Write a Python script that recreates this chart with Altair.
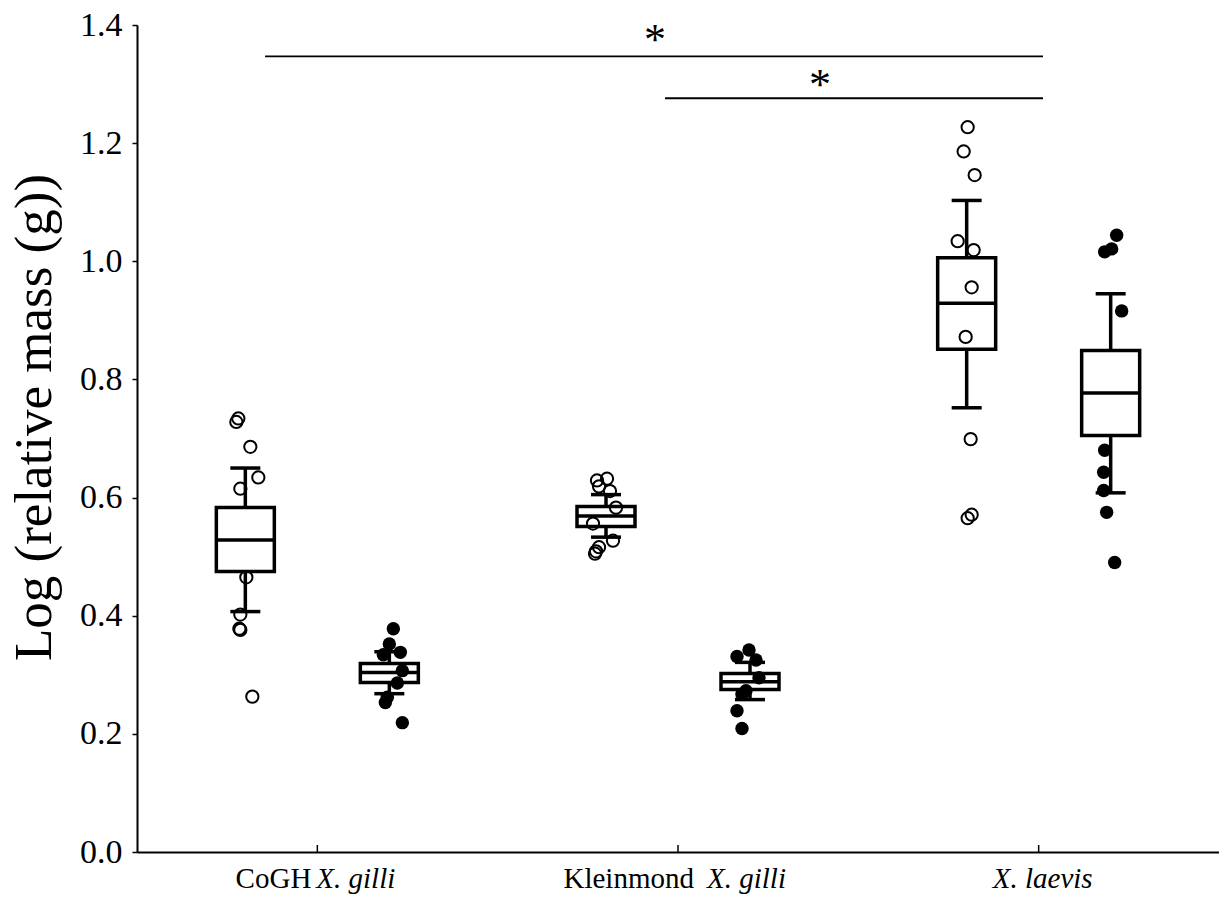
import altair as alt
import pandas as pd

# ---- data -----------------------------------------------------------------
groups = ["CoGH", "Kleinmond", "laevis"]
prefixes = ["CoGH", "Kleinmond", ""]
species = ["X. gilli", "X. gilli", "X. laevis"]

# box summaries: whisker low, Q1, median, Q3, whisker high
open_lo = [0.407, 0.533, 0.752]
open_q1 = [0.475, 0.551, 0.851]
open_med = [0.528, 0.569, 0.929]
open_q3 = [0.583, 0.585, 1.006]
open_hi = [0.650, 0.605, 1.103]

filled_lo = [0.268, 0.258, 0.608]
filled_q1 = [0.287, 0.275, 0.705]
filled_med = [0.304, 0.288, 0.777]
filled_q3 = [0.319, 0.302, 0.849]
filled_hi = [0.339, 0.321, 0.945]

# individual observations (value, horizontal jitter in px)
open_vals = {
    "CoGH": [0.734, 0.728, 0.686, 0.634, 0.615, 0.465, 0.402, 0.378, 0.376, 0.263],
    "Kleinmond": [0.629, 0.632, 0.619, 0.611, 0.583, 0.556, 0.527, 0.516, 0.509, 0.505],
    "laevis": [1.227, 1.186, 1.146, 1.034, 1.019, 0.956, 0.872, 0.699, 0.571, 0.565],
}
open_jit = {
    "CoGH": [-7, -9, 5, 13, -5, 1, -5, -6, -5, 7],
    "Kleinmond": [-9, 1, -7, 4, 10, -13, 7, -7, -10, -11],
    "laevis": [1, -3, 8, -9, 7, 5, -1, 4, 5, 1],
}
filled_vals = {
    "CoGH": [0.378, 0.352, 0.334, 0.338, 0.307, 0.286, 0.262, 0.253, 0.219],
    "Kleinmond": [0.342, 0.331, 0.325, 0.295, 0.273, 0.267, 0.239, 0.209],
    "laevis": [1.044, 1.021, 1.016, 0.916, 0.680, 0.643, 0.612, 0.575, 0.490],
}
filled_jit = {
    "CoGH": [4, 0, -6, 11, 13, 8, -2, -4, 13],
    "Kleinmond": [-1, -13, 6, 9, -4, -8, -13, -8],
    "laevis": [6, 1, -6, 11, -6, -7, -7, -4, 4],
}

# significance brackets: x start, x end, height, star position
sig_x = [0.355, 1.464]
sig_x2 = [2.512, 2.512]
sig_y = [1.347, 1.276]
star_x = [1.436, 1.894]
star_y = [1.386, 1.310]

# ---- layout -----------------------------------------------------------------
W, H = 1082, 827
PX = W / 3.0            # px per category unit
OFFSET = 72 / PX        # horizontal shift of each sex's box from the tick
BOX_HALF = 29 / PX
CAP_HALF = 15 / PX
FONT = "Liberation Serif"

ticks = [0.5, 1.5, 2.5]

rows = []
for i, g in enumerate(groups):
    rows.append(dict(kind="open", xc=ticks[i] - OFFSET, lo=open_lo[i], q1=open_q1[i],
                     med=open_med[i], q3=open_q3[i], hi=open_hi[i]))
    rows.append(dict(kind="filled", xc=ticks[i] + OFFSET, lo=filled_lo[i], q1=filled_q1[i],
                     med=filled_med[i], q3=filled_q3[i], hi=filled_hi[i]))
boxes = pd.DataFrame(rows)
boxes["bl"] = boxes.xc - BOX_HALF
boxes["br"] = boxes.xc + BOX_HALF
boxes["cl"] = boxes.xc - CAP_HALF
boxes["cr"] = boxes.xc + CAP_HALF

pts = []
for i, g in enumerate(groups):
    for v, j in zip(open_vals[g], open_jit[g]):
        pts.append(dict(kind="open", x=ticks[i] - OFFSET + j / PX, y=v))
    for v, j in zip(filled_vals[g], filled_jit[g]):
        pts.append(dict(kind="filled", x=ticks[i] + OFFSET + j / PX, y=v))
pts = pd.DataFrame(pts)

xs = alt.Scale(domain=[0, 3], nice=False, zero=False)
ys = alt.Scale(domain=[0, 1.4], nice=False)
xaxis = alt.Axis(labels=False, ticks=False, grid=False, title=None,
                 domainColor="black", domainWidth=2)
yaxis = alt.Axis(values=[0, 0.2, 0.4, 0.6, 0.8, 1.0, 1.2, 1.4], format=".1f",
                 grid=False, tickSize=5, tickWidth=1.5, tickColor="black",
                 domainColor="black", domainWidth=2, labelPadding=10,
                 labelFont=FONT, labelFontSize=34, labelColor="black",
                 title="Log (relative mass (g))", titleFont=FONT, titleFontSize=53,
                 titleFontWeight="normal", titleColor="black",
                 titleX=-87, titleY=392, titleBaseline="alphabetic", titleAngle=270)


def X(f):
    return alt.X(f"{f}:Q", scale=xs, axis=xaxis)


def Y(f):
    return alt.Y(f"{f}:Q", scale=ys, axis=yaxis)


base_box = alt.Chart(boxes)
stroke = dict(color="black", strokeWidth=3.5)

whisk_up = base_box.mark_rule(**stroke).encode(x=X("xc"), y=Y("q3"), y2="hi:Q")
whisk_dn = base_box.mark_rule(**stroke).encode(x=X("xc"), y=Y("lo"), y2="q1:Q")
cap_hi = base_box.mark_rule(**stroke).encode(x=X("cl"), x2="cr:Q", y=Y("hi"))
cap_lo = base_box.mark_rule(**stroke).encode(x=X("cl"), x2="cr:Q", y=Y("lo"))
rect = base_box.mark_rect(fill="white", stroke="black", strokeWidth=3.5).encode(
    x=X("bl"), x2="br:Q", y=Y("q1"), y2="q3:Q")
median = base_box.mark_rule(**stroke).encode(x=X("bl"), x2="br:Q", y=Y("med"))

open_pts = alt.Chart(pts[pts.kind == "open"]).mark_point(
    shape="circle", filled=False, color="black", strokeWidth=2, size=150, opacity=1
).encode(x=X("x"), y=Y("y"))
filled_pts = alt.Chart(pts[pts.kind == "filled"]).mark_point(
    shape="circle", filled=True, color="black", size=180, opacity=1
).encode(x=X("x"), y=Y("y"))

# x-axis ticks pointing into the plot
tick_df = pd.DataFrame({"x": ticks})
xticks = alt.Chart(tick_df).mark_rule(color="black", strokeWidth=1.5).encode(
    x=X("x"), y=alt.value(H - 7), y2=alt.value(H))

# category labels: plain prefix + italic species name
lab = pd.DataFrame({"x": ticks, "prefix": prefixes, "species": species})
lab_y = H + 36
pre1 = alt.Chart(lab.iloc[[0]]).mark_text(
    font=FONT, fontSize=29, align="right", baseline="alphabetic", dx=-6, color="black"
).encode(x=X("x"), y=alt.value(lab_y), text="prefix:N")
sp1 = alt.Chart(lab.iloc[[0]]).mark_text(
    font=FONT, fontSize=29, fontStyle="italic", align="left", baseline="alphabetic",
    dx=-1, color="black"
).encode(x=X("x"), y=alt.value(lab_y), text="species:N")
pre2 = alt.Chart(lab.iloc[[1]]).mark_text(
    font=FONT, fontSize=29, align="right", baseline="alphabetic", dx=16, color="black"
).encode(x=X("x"), y=alt.value(lab_y), text="prefix:N")
sp2 = alt.Chart(lab.iloc[[1]]).mark_text(
    font=FONT, fontSize=29, fontStyle="italic", align="left", baseline="alphabetic",
    dx=29, color="black"
).encode(x=X("x"), y=alt.value(lab_y), text="species:N")
sp3 = alt.Chart(lab.iloc[[2]]).mark_text(
    font=FONT, fontSize=29, fontStyle="italic", align="center", baseline="alphabetic",
    dx=4, color="black"
).encode(x=X("x"), y=alt.value(lab_y), text="species:N")

# significance brackets
sig = pd.DataFrame({"x": sig_x, "x2": sig_x2, "y": sig_y})
sig_lines = alt.Chart(sig).mark_rule(color="black", strokeWidth=1.8).encode(
    x=X("x"), x2="x2:Q", y=Y("y"))
stars = pd.DataFrame({"x": star_x, "y": star_y, "t": ["*", "*"]})
star_txt = alt.Chart(stars).mark_text(
    font=FONT, fontSize=44, baseline="middle", align="center", color="black", dy=8
).encode(x=X("x"), y=Y("y"), text="t:N")

chart = alt.layer(
    rect, whisk_up, whisk_dn, cap_hi, cap_lo, median,
    open_pts, filled_pts, xticks, pre1, sp1, pre2, sp2, sp3, sig_lines, star_txt
).properties(
    width=W, height=H,
    autosize=alt.AutoSizeParams(type="none"),
    padding={"left": 137, "top": 25, "right": 0, "bottom": 45},
).configure(background="white", view=alt.ViewConfig(stroke=None))

chart.save("out.html", embed_options={"renderer": "svg", "actions": False})
